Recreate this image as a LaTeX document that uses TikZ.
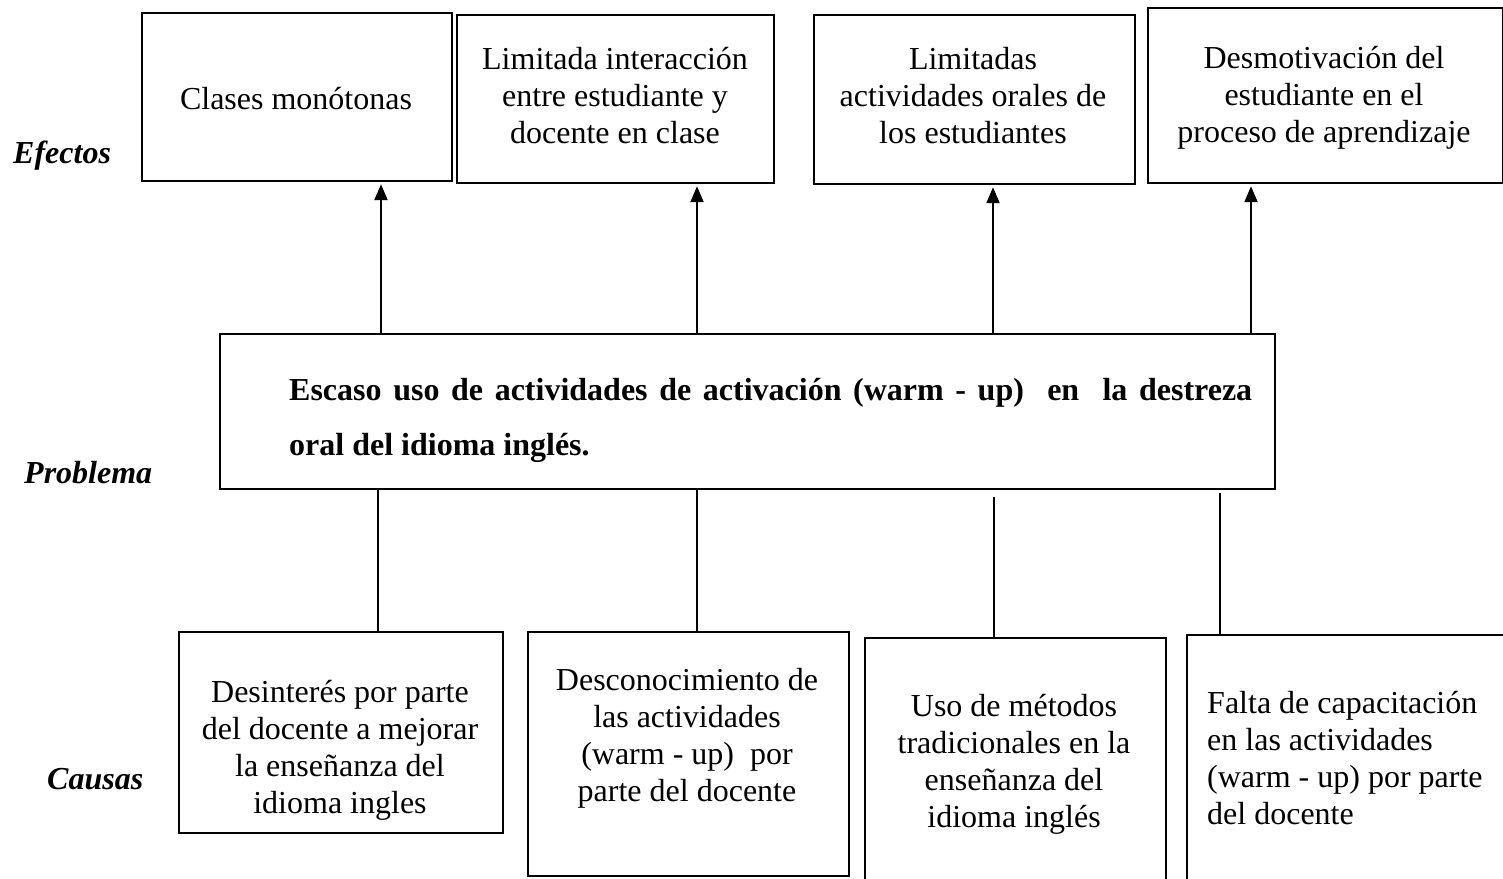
\documentclass[tikz,border=0pt]{standalone}
\usepackage{fontspec}
\setmainfont{Liberation Serif}
\usetikzlibrary{arrows.meta}
\newcommand{\mlines}[1]{\begin{tabular}[t]{@{}c@{}}#1\end{tabular}}
\newcommand{\llines}[1]{\begin{tabular}[t]{@{}l@{}}#1\end{tabular}}
\tikzset{
  boxline/.style={draw, line width=2.2pt, inner sep=0pt, anchor=north west},
  txt/.style={font=\fontsize{32}{37}\selectfont, inner sep=0pt, anchor=base},
  lab/.style={font=\fontsize{32}{37}\selectfont\bfseries\itshape, inner sep=0pt, anchor=base west},
  arr/.style={line width=2.2pt, shorten >=2pt, -{Triangle[length=16pt,width=13pt]}},
  conn/.style={line width=2.2pt}
}
\begin{document}
\begin{tikzpicture}[x=1pt,y=-1pt]
\useasboundingbox (0,0) rectangle (1503,878);
\fill[white] (0,0) rectangle (1503,878);

% effect boxes
\node[boxline, minimum width=310pt, minimum height=168pt] (e1) at (141,12) {};
\node[boxline, minimum width=317pt, minimum height=168pt] (e2) at (456,14) {};
\node[boxline, minimum width=321pt, minimum height=169pt] (e3) at (813,14) {};
\node[boxline, minimum width=355pt, minimum height=175pt] (e4) at (1147,7) {};

\node[txt] (e1t) at (296,109) {Clases monótonas};
\node[txt] (e2t) at (615,69) {\mlines{Limitada interacción\\entre estudiante y\\docente en clase}};
\node[txt] (e3t) at (973,69) {\mlines{Limitadas\\actividades orales de\\los estudiantes}};
\node[txt] (e4t) at (1324,68) {\mlines{Desmotivación del\\estudiante en el\\proceso de aprendizaje}};

% problem box
\node[boxline, minimum width=1055pt, minimum height=155pt] (prob) at (219,333) {};
\node[anchor=base west, inner sep=0pt, font=\fontsize{32}{55}\selectfont\bfseries] (probt) at (289,400)
  {\parbox[t]{963pt}{Escaso uso de actividades de activación (warm - up)\ \ en\ \ la destreza\linebreak oral del idioma inglés.}};

% cause boxes
\node[boxline, minimum width=324pt, minimum height=201pt] (c1) at (178,631) {};
\node[boxline, minimum width=321pt, minimum height=244pt] (c2) at (527,631) {};
\node[boxline, minimum width=301pt, minimum height=280pt] (c3) at (864,637) {};
\node[boxline, minimum width=360pt, minimum height=280pt] (c4) at (1186,634) {};

\node[txt] (c1t) at (340,702) {\mlines{Desinterés por parte\\del docente a mejorar\\la enseñanza del\\idioma ingles}};
\node[txt] (c2t) at (687,690) {\mlines{Desconocimiento de\\las actividades\\(warm - up)\ \ por\\parte del docente}};
\node[txt] (c3t) at (1014,716) {\mlines{Uso de métodos\\tradicionales en la\\enseñanza del\\idioma inglés}};
\node[txt, anchor=base west] (c4t) at (1207,713) {\llines{Falta de capacitación\\en las actividades\\(warm - up) por parte\\del docente}};

% side labels
\node[lab] (lef) at (13,163) {Efectos};
\node[lab] (lpr) at (24,483) {Problema};
\node[lab] (lca) at (47,789) {Causas};

% arrow positions
\coordinate (a1) at (381,0);
\coordinate (a2) at (697,0);
\coordinate (a3) at (993,0);
\coordinate (a4) at (1251,0);
\draw[arr] (prob.north -| a1) -- (e1.south -| a1);
\draw[arr] (prob.north -| a2) -- (e2.south -| a2);
\draw[arr] (prob.north -| a3) -- (e3.south -| a3);
\draw[arr] (prob.north -| a4) -- (e4.south -| a4);

% cause connectors
\coordinate (b1) at (378,0);
\coordinate (b2) at (697,0);
\coordinate (b3) at (994,497);
\coordinate (b4) at (1220,493);
\draw[conn] (prob.south -| b1) -- (c1.north -| b1);
\draw[conn] (prob.south -| b2) -- (c2.north -| b2);
\draw[conn] (b3) -- (c3.north -| b3);
\draw[conn] (b4) -- (c4.north -| b4);
\end{tikzpicture}
\end{document}
